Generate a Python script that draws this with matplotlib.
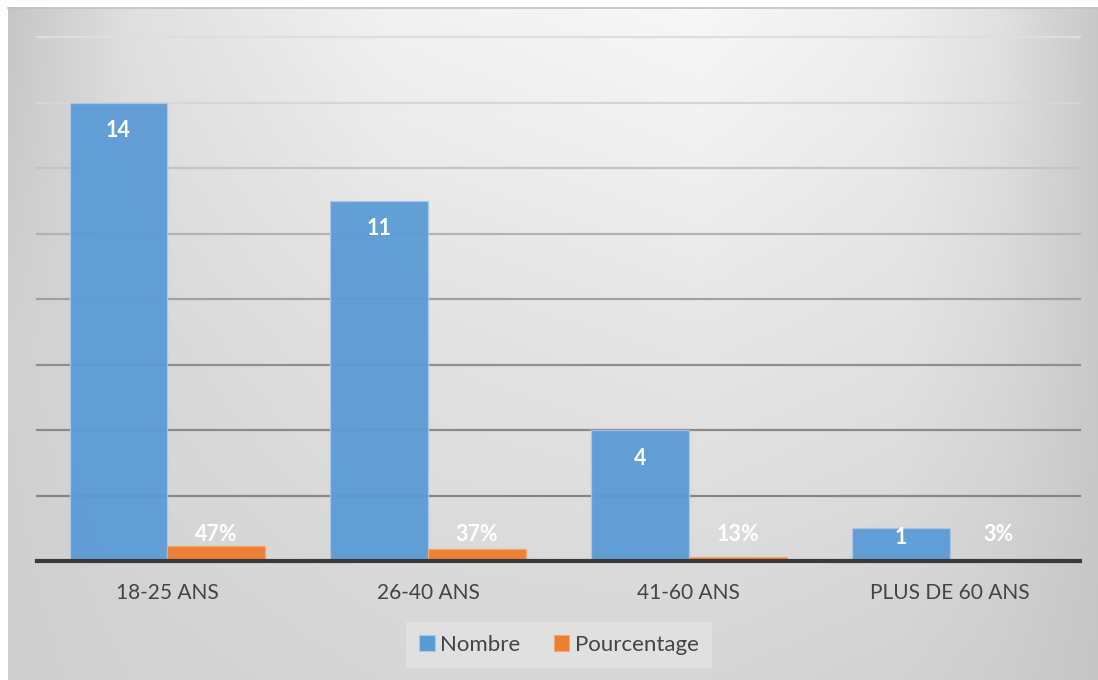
import numpy as np
import matplotlib
matplotlib.use("Agg")
import matplotlib.pyplot as plt
from matplotlib.patches import Patch
from matplotlib.lines import Line2D

# Data
categories = ["18-25 ANS", "26-40 ANS", "41-60 ANS", "PLUS DE 60 ANS"]
nombre = [14, 11, 4, 1]
pourcentage = [0.47, 0.37, 0.13, 0.03]
series_names = ["Nombre", "Pourcentage"]

BLUE = "#5b9bd5"
ORANGE = "#ed7d31"
TEXT = "#444444"
FONT = "Lato"

W, H = 1098, 680
fig = plt.figure(figsize=(W / 100, H / 100), dpi=100)
fig.patch.set_facecolor("white")

# Chart-area background: soft grey gradient, lightest near the top centre-right
bg = fig.add_axes([8 / W, 0, 1 - 8 / W, 1 - 7 / H])
bg.set_axis_off()
gx = np.array([0, 130, 390, 700, 900, 1000, 1098])
rows_y = np.array([0, 340, 680])
rows = np.array([
    [196, 224, 242, 248, 238, 225, 200],
    [208, 216, 225, 230, 226, 217, 201],
    [206, 210, 214, 214, 210, 205, 198],
], dtype=float)
px = np.arange(8, W)
py = np.arange(7, H)
row_interp = np.array([np.interp(px, gx, r) for r in rows])
img = np.empty((len(py), len(px)))
for j in range(len(px)):
    img[:, j] = np.interp(py, rows_y, row_interp[:, j])
img = img / 255.0
bg.imshow(np.dstack([img, img, img]), aspect="auto", extent=[0, 1, 0, 1],
          interpolation="bilinear")
bg.set_xlim(0, 1)
bg.set_ylim(0, 1)
fig.add_artist(Line2D([8 / W, 1], [1 - 7.5 / H, 1 - 7.5 / H],
                      color="#c2c2c2", lw=1.2))

# Plot area
ax = fig.add_axes([37 / W, 1 - 561 / H, (1080 - 37) / W, (561 - 37) / H])
ax.set_facecolor("none")
ax.set_xlim(-0.5, len(categories) - 0.5)
ax.set_ylim(0, 16)

# Gridlines, darker towards the baseline
grid_vals = np.arange(2, 17, 2)
grid_shade = np.interp(grid_vals, [2, 6, 10, 14, 16], [0.52, 0.56, 0.70, 0.84, 0.87])
for v, s in zip(grid_vals, grid_shade):
    ax.axhline(v, color=(s, s, s), lw=1.6, zorder=1, clip_on=False)

x = np.arange(len(categories))
w = 0.375
ax.bar(x - w / 2, nombre, w, color=BLUE, edgecolor="#a9c8e8",
       linewidth=0.9, alpha=0.95, zorder=3)
ax.bar(x + w / 2, pourcentage, w, color=ORANGE, edgecolor="#f4a874",
       linewidth=0.9, alpha=0.97, zorder=3)

ax.axhline(0, color="#3a3a3a", lw=3.0, zorder=5, clip_on=False)

# Value labels
for xi, v in zip(x - w / 2, nombre):
    ax.text(xi, max(v - 0.855, 0.73), f"{v}", ha="center", va="center",
            color="white", fontsize=15.5, fontweight="bold", family=FONT, zorder=6)
for xi, v in zip(x + w / 2, pourcentage):
    ax.text(xi, max(v + 0.35, 0.82), f"{round(v * 100)}%", ha="center",
            va="center", color="white", fontsize=15.5, fontweight="bold",
            family=FONT, zorder=6)

for s in ax.spines.values():
    s.set_visible(False)
ax.set_yticks([])
ax.set_xticks(x)
ax.set_xticklabels(categories, fontsize=15, color=TEXT, family=FONT)
ax.tick_params(axis="x", length=0, pad=16)

handles = [Patch(facecolor=BLUE, edgecolor="#a9c8e8", lw=0.8),
           Patch(facecolor=ORANGE, edgecolor="#f4a874", lw=0.8)]
leg = fig.legend(handles, series_names, loc="center",
                 bbox_to_anchor=(559 / W, 1 - 645 / H), ncol=2,
                 frameon=True, fancybox=False, facecolor="#e0e0e0",
                 edgecolor="none", framealpha=1.0,
                 prop={"family": FONT, "size": 16},
                 handlelength=0.7, handleheight=0.7, handletextpad=0.25,
                 columnspacing=1.5, borderpad=0.6, borderaxespad=0)
for t in leg.get_texts():
    t.set_color(TEXT)

fig.savefig("out.png", dpi=100)
